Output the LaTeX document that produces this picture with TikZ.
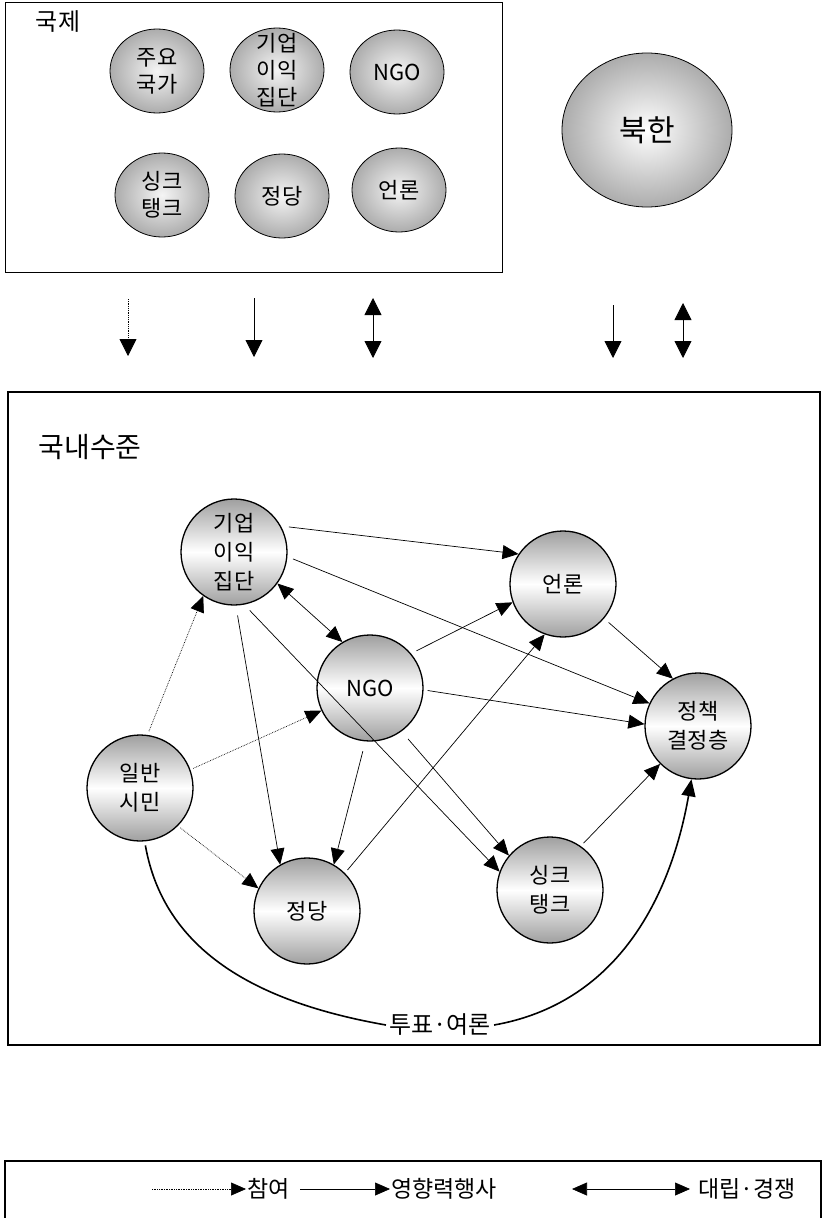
\documentclass[tikz,border=0pt]{standalone}
\usepackage{fontspec}
\setmainfont{Noto Sans CJK KR}
\usetikzlibrary{arrows.meta,shapes.geometric}

\tikzset{
  world/.style={ellipse, draw, line width=0.8pt, minimum width=94pt, minimum height=84pt,
    inner sep=0pt, inner color=gray!8, outer color=gray!65, align=center,
    font=\fontsize{22}{27}\selectfont},
  actor/.style={circle, draw, line width=1.3pt, minimum size=106pt, inner sep=0pt,
    top color=gray!75, bottom color=gray!75, middle color=white, align=center,
    font=\fontsize{22}{29}\selectfont},
  infl/.style={-{Triangle[length=16pt,width=14pt]}, line width=0.7pt},
  part/.style={infl, densely dotted},
  rival/.style={{Triangle[length=16pt,width=14pt]}-{Triangle[length=16pt,width=14pt]}, line width=0.7pt},
  bigarr/.style={-{Triangle[length=17pt,width=17pt]}, line width=0.8pt},
  bigrival/.style={{Triangle[length=17pt,width=17pt]}-{Triangle[length=17pt,width=17pt]}, line width=0.8pt},
  legarr/.style={-{Triangle[length=15pt,width=13pt]}, line width=0.7pt},
  legrival/.style={{Triangle[length=15pt,width=13pt]}-{Triangle[length=15pt,width=13pt]}, line width=0.7pt},
}

\begin{document}
\begin{tikzpicture}[x=1pt,y=1pt]
      \useasboundingbox (0,0) rectangle (823,-1218);

      \draw[line width=0.8pt] (5,-2) rectangle (502,-272);
      \node[font=\fontsize{24}{28}\selectfont] (intl) at (58,-22) {국제};
      \node[world] (wmajor) at (157,-71) {주요\\국가};
      \node[world, inner ysep=-16pt] (wbiz) at (277,-70) {기업\\이익\\집단};
      \node[world] (wngo) at (397,-72) {NGO};
      \node[world] (wthink) at (162,-195) {싱크\\탱크};
      \node[world] (wparty) at (282,-196) {정당};
      \node[world] (wpress) at (399,-190) {언론};
      \node[ellipse, draw, line width=0.8pt, minimum width=170pt, minimum height=154pt,
        inner color=white, outer color=gray!65, font=\fontsize{30}{33}\selectfont] (nk) at (647,-130) {북한};

      \coordinate (d1) at (128,-299); \coordinate (d2) at (128,-356);
      \coordinate (s1) at (254,-298); \coordinate (s2) at (254,-357);
      \coordinate (r1) at (373,-298); \coordinate (r2) at (373,-358);
      \coordinate (n1) at (613,-305); \coordinate (n2) at (613,-358);
      \coordinate (m1) at (683,-303); \coordinate (m2) at (683,-358);
      \draw[bigarr, densely dotted] (d1) -- (d2);
      \draw[bigarr] (s1) -- (s2);
      \draw[bigrival] (r1) -- (r2);
      \draw[bigarr] (n1) -- (n2);
      \draw[bigrival] (m1) -- (m2);

      \draw[line width=1.5pt] (8,-392) rectangle (820,-1045);
      \node[font=\fontsize{28}{32}\selectfont] (dom) at (90,-447) {국내수준};

      \node[actor] (biz) at (234,-552) {기업\\이익\\집단};
      \node[actor] (ngo) at (370,-688) {NGO};
      \node[actor] (press) at (563,-584) {언론};
      \node[actor] (policy) at (698,-726) {정책\\결정층};
      \node[actor] (cit) at (140,-788) {일반\\시민};
      \node[actor] (party) at (307,-911) {정당};
      \node[actor] (think) at (550,-890) {싱크\\탱크};

      \draw[part, shorten <=4pt] (cit.82) -- (biz.-125);
      \draw[part, shorten <=3pt] (cit.20) -- (ngo.205);
      \draw[part, shorten <=3pt] (cit.-45) -- (party.155);

      \draw[infl, shorten <=8pt] (biz.29) -- (press.146);
      \draw[infl, shorten <=6pt] (biz.-5) -- (policy.155);
      \draw[rival] (biz.-36) -- (ngo.121);
      \draw[infl, shorten <=10pt] (biz.-88) -- (party.120);
      \draw[infl, shorten <=8pt] (biz.-79) -- (think.160);
      \draw[infl, shorten <=6pt] (ngo.40) -- (press.200);
      \draw[infl, shorten <=4pt] (ngo.-2) -- (policy.178);
      \draw[infl, shorten <=10pt] (ngo.-95) -- (party.60);
      \draw[infl, shorten <=10pt] (ngo.-54) -- (think.140);
      \draw[infl, shorten <=4pt] (party.45) -- (press.-110);
      \draw[infl, shorten <=6pt] (press.-40) -- (policy.118);
      \draw[infl, shorten <=4pt] (think.55) -- (policy.-135);

      \node[font=\fontsize{24}{28}\selectfont, inner sep=3pt] (vote) at (440,-1025) {투표·여론};
      \draw[line width=1.6pt, shorten <=4pt] (cit.-85) to[out=-80,in=170] (vote.west);
      \draw[-{Triangle[length=17pt,width=14pt]}, line width=1.6pt] (vote.east) to[out=10,in=-100] (policy.-97);

      \draw[line width=1.5pt] (5,-1161) rectangle (821,-1226);
      \node[anchor=west, font=\fontsize{23}{26}\selectfont, inner sep=1pt] (lpart) at (246,-1189) {참여};
      \node[anchor=west, font=\fontsize{23}{26}\selectfont, inner sep=1pt] (linfl) at (390,-1189) {영향력행사};
      \node[anchor=west, font=\fontsize{23}{26}\selectfont, inner sep=1pt] (lrival) at (697,-1189) {대립·경쟁};
      \coordinate (l1) at (152,-1189);
      \coordinate (l2) at (300,-1189);
      \coordinate (l3) at (572,-1189);
      \draw[legarr, densely dotted] (l1) -- (lpart.west);
      \draw[legarr] (l2) -- (linfl.west);
      \draw[legrival] (l3) -- ([xshift=-7pt]lrival.west);
\end{tikzpicture}
\end{document}
